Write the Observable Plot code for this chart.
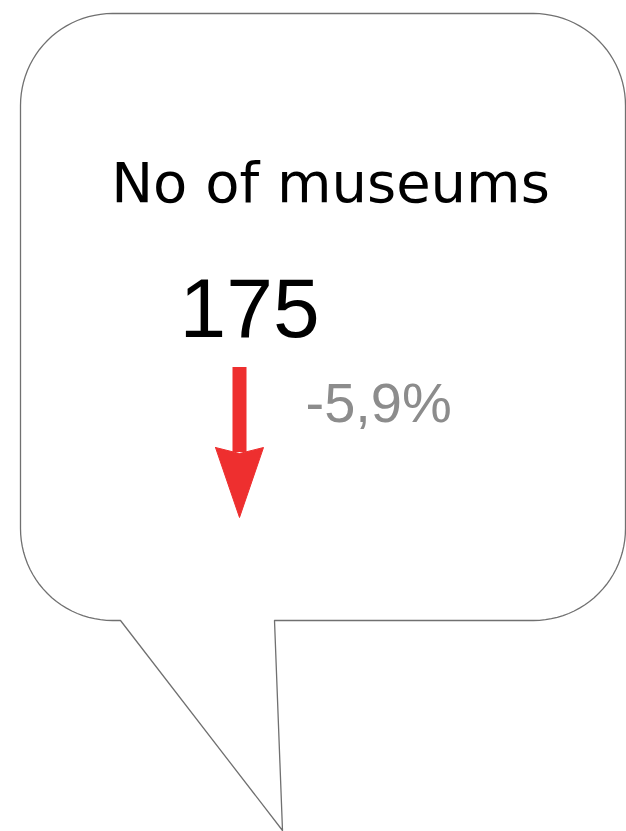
<!DOCTYPE html>
<html>
<head>
<meta charset="utf-8">
<script src="https://cdn.jsdelivr.net/npm/d3@7"></script>
<script src="https://cdn.jsdelivr.net/npm/@observablehq/plot@0.6"></script>
<style>
  html, body { margin: 0; padding: 0; background: #ffffff; }
  #chart svg { display: block; }
</style>
</head>
<body>
<div id="chart"></div>
<script>
// ---- data ----
const titles = ["No of museums"];
const values = [175];
const changes = [-5.9];   // percent change
const changeLabels = ["-5,9%"];

// ---- layout (bubble outline) ----
const W = 626, H = 831;
const box = {x0: 20, x1: 625, y0: 13, y1: 620, r: 92};
const tail = {baseLeft: 120, baseRight: 274, tipX: 282, tipY: 830};

function arc(cx, cy, r, a0, a1, n = 24) {
  const pts = [];
  for (let i = 0; i <= n; i++) {
    const a = a0 + (a1 - a0) * i / n;
    pts.push([cx + r * Math.cos(a), cy + r * Math.sin(a)]);
  }
  return pts;
}
const bubble = [
  ...arc(box.x0 + box.r, box.y0 + box.r, box.r, Math.PI, 1.5 * Math.PI),
  ...arc(box.x1 - box.r, box.y0 + box.r, box.r, 1.5 * Math.PI, 2 * Math.PI),
  ...arc(box.x1 - box.r, box.y1 - box.r, box.r, 0, 0.5 * Math.PI),
  [tail.baseRight, box.y1],
  [tail.tipX, tail.tipY],
  [tail.baseLeft, box.y1],
  ...arc(box.x0 + box.r, box.y1 - box.r, box.r, 0.5 * Math.PI, Math.PI),
  [box.x0, box.y0 + box.r]
].map(([x, y]) => ({x, y}));

// arrow (direction from sign of change)
const red = "#ee2f2f";
const arrowX = 239;
const down = changes[0] < 0;
const shaft = [{x: arrowX, y1: down ? 367 : 452, y2: down ? 452 : 517}];
const head = (down
  ? [[215, 447], [239, 453], [263, 447], [239, 517], [215, 447]]
  : [[215, 437], [239, 431], [263, 437], [239, 368], [215, 437]]
).map(([x, y]) => ({x, y}));

const plot = Plot.plot({
  width: W,
  height: H,
  margin: 0,
  x: {domain: [0, W], range: [0, W], axis: null},
  y: {domain: [0, H], range: [0, H], axis: null},
  style: {background: "#ffffff"},
  marks: [
    Plot.line(bubble, {x: "x", y: "y", fill: "#ffffff", stroke: "#707070", strokeWidth: 1.3, curve: "linear"}),
    Plot.text(titles, {
      x: 330, y: 201, text: d => d, textAnchor: "middle", lineAnchor: "bottom",
      fontSize: 56, fontFamily: "DejaVu Sans", fill: "#000000"
    }),
    Plot.text(values, {
      x: 179, y: 336, text: d => String(d), textAnchor: "start", lineAnchor: "bottom",
      fontSize: 84, fontFamily: "Liberation Sans", fill: "#000000"
    }),
    Plot.text(changeLabels, {
      x: 305, y: 421, text: d => d, textAnchor: "start", lineAnchor: "bottom",
      fontSize: 56, fontFamily: "Liberation Sans", fill: "#8c8c8c"
    }),
    Plot.ruleX(shaft, {x: "x", y1: "y1", y2: "y2", stroke: red, strokeWidth: 14}),
    Plot.line(head, {x: "x", y: "y", fill: red, stroke: red, strokeWidth: 1})
  ]
});
document.getElementById("chart").appendChild(plot);
</script>
</body>
</html>
